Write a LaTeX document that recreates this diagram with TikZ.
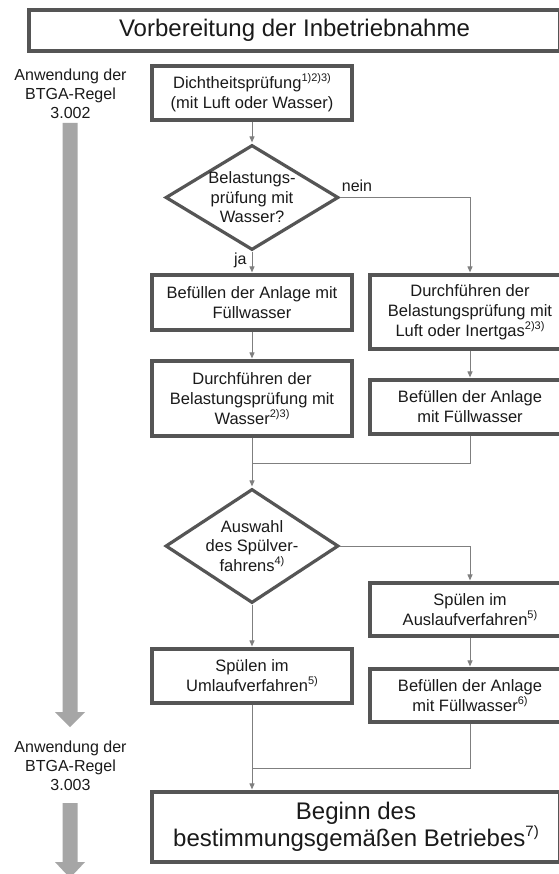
\documentclass[tikz,border=0pt]{standalone}
\usepackage{fontspec}
\setmainfont{Liberation Sans}
\usetikzlibrary{shapes.geometric,arrows.meta}
\definecolor{boxline}{HTML}{555555}
\definecolor{conncol}{HTML}{7F7F7F}
\definecolor{bigarrow}{HTML}{A6A6A6}
\definecolor{txt}{HTML}{1A1A1A}
\newcommand{\sps}[1]{\raisebox{0.42em}{\fontsize{11}{12}\selectfont #1}}
\newcommand{\spb}[1]{\raisebox{0.42em}{\fontsize{15}{16}\selectfont #1}}
\begin{document}
\begin{tikzpicture}[x=1pt,y=-1pt,
  box/.style={draw=boxline, line width=3.2pt, fill=white, minimum width=200pt, inner sep=2pt, align=center, text=txt, font=\fontsize{16.5}{20}\selectfont},
  dia/.style={diamond, draw=boxline, line width=3.2pt, fill=white, minimum width=173pt, inner sep=-3pt, align=center, text=txt, font=\fontsize{16.5}{19.5}\selectfont},
  conn/.style={draw=conncol, line width=1pt},
  arr/.style={conn, -{Triangle[length=6pt,width=5pt]}, shorten >=1pt},
  side/.style={text=txt, align=center, font=\fontsize{16}{19}\selectfont},
  lab/.style={text=txt, font=\fontsize{16}{18}\selectfont, inner sep=0pt}]
\useasboundingbox (0,0) rectangle (558,874);
\fill[white] (0,0) rectangle (558,874);

% title
\node[box, minimum width=531pt, minimum height=41pt, font=\fontsize{24}{26}\selectfont] (title) at (294.5,30.5) {Vorbereitung der Inbetriebnahme};

% left side: BTGA rules and grey arrows
\node[side] (regel1) at (70.5,94) {Anwendung der\\BTGA-Regel\\3.002};
\fill[bigarrow] (62.5,123) -- (77.5,123) -- (77.5,712) -- (85,712) -- (70,727) -- (55,712) -- (62.5,712) -- cycle;
\node[side] (regel2) at (70.5,766) {Anwendung der\\BTGA-Regel\\3.003};
\fill[bigarrow] (62.5,803) -- (77.5,803) -- (77.5,862) -- (85,862) -- (70,878) -- (55,862) -- (62.5,862) -- cycle;

% flow nodes
\node[box, minimum height=54pt] (b1) at (252,93) {Dichtheitsprüfung\sps{1)2)3)}\\(mit Luft oder Wasser)};
\node[dia, minimum height=105pt, aspect=1.65] (d1) at (252,197.5) {Belastungs-\\prüfung mit\\Wasser?};
\node[box, minimum height=55pt] (l1) at (252,302.5) {Befüllen der Anlage mit\\Füllwasser};
\node[box, minimum height=75pt] (l2) at (252,398.5) {Durchführen der\\Belastungsprüfung mit\\Wasser\sps{2)3)}};
\node[box, minimum height=74pt] (r1) at (470,312) {Durchführen der\\Belastungsprüfung mit\\Luft oder Inertgas\sps{2)3)}};
\node[box, minimum height=54pt] (r2) at (470,407) {Befüllen der Anlage\\mit Füllwasser};
\node[dia, minimum height=114pt, aspect=1.53] (d2) at (252,546) {Auswahl\\des Spülver-\\fahrens\sps{4)}};
\node[box, minimum height=53pt] (r3) at (470,609.5) {Spülen im\\Auslaufverfahren\sps{5)}};
\node[box, minimum height=53pt] (r4) at (470,695.5) {Befüllen der Anlage\\mit Füllwasser\sps{6)}};
\node[box, minimum height=54pt] (l3) at (252,676) {Spülen im\\Umlaufverfahren\sps{5)}};
\node[box, minimum width=408pt, minimum height=70pt, font=\fontsize{24}{25}\selectfont] (end) at (356,827) {Beginn des\\bestimmungsgemäßen Betriebes\spb{7)}};

% connectors
\coordinate (m1) at (252,463);
\coordinate (m2) at (252,768);
\draw[arr] (b1) -- (d1);
\draw[arr] (d1.south) -- node[lab, left=5pt, pos=0.4] (ja) {ja} (l1.north);
\draw[arr] (d1.east) -- node[lab, above=5pt, pos=0.13] (nein) {nein} (d1.east -| r1.north) -- (r1.north);
\draw[arr] (l1) -- (l2);
\draw[arr] (r1) -- (r2);
\draw[arr] (l2) -- (d2);
\draw[conn] (r2.south) |- (m1);
\draw[arr] (d2.east) -| (r3.north);
\draw[arr] (d2) -- (l3);
\draw[arr] (r3) -- (r4);
\draw[arr] (l3.south) -- (l3.south |- end.north);
\draw[conn] (r4.south) |- (m2);
\end{tikzpicture}
\end{document}
